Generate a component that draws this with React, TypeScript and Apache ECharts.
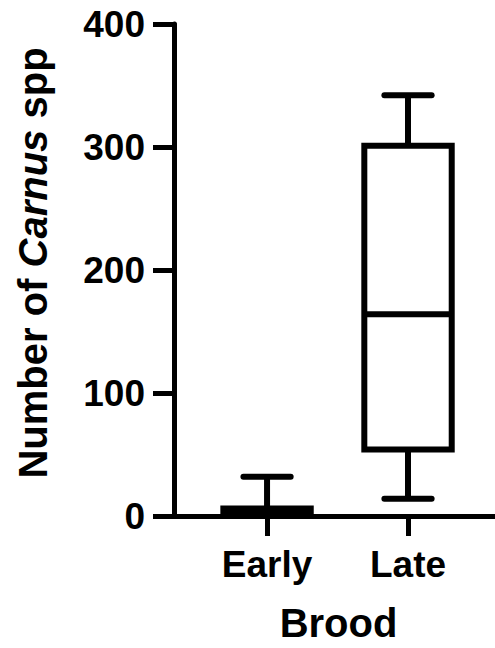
import React, { useEffect, useRef } from "react";
import * as echarts from "echarts";

const categories = ["Early", "Late"];
const mins = [0, 14];
const q1s = [0, 54];
const medians = [2, 164];
const q3s = [6, 301];
const maxs = [32, 342];
const yTicks = [0, 100, 200, 300, 400];

const FONT = "'Liberation Sans', Arial, sans-serif";

export default function App() {
  const ref = useRef<HTMLDivElement>(null);
  useEffect(() => {
    if (!ref.current) return;
    const chart = echarts.init(ref.current, null, { renderer: "svg" });
    const data = categories.map((_, i) => [i + 1, mins[i], q1s[i], medians[i], q3s[i], maxs[i]]);
    const lw = 6;
    chart.setOption({
      animation: false,
      backgroundColor: "#fff",
      grid: { left: 174, top: 24, right: 0, bottom: 130, containLabel: false },
      xAxis: {
        type: "value",
        min: 0.34,
        max: 2.617,
        splitLine: { show: false },
        axisLine: { onZero: false, lineStyle: { color: "#000", width: 5, cap: "butt" } },
        axisTick: { show: true, customValues: [1, 2], length: 20, lineStyle: { color: "#000", width: 5 } },
        axisLabel: {
          customValues: [1, 2],
          formatter: (v: number) => categories[Math.round(v) - 1] ?? "",
          fontSize: 37,
          fontWeight: "bold",
          fontFamily: FONT,
          color: "#000",
          margin: 30,
        },
        name: "Brood",
        nameLocation: "middle",
        nameGap: 87,
        nameTextStyle: { fontSize: 40, fontWeight: "bold", fontFamily: FONT, color: "#000", padding: [0, 0, 0, 8] },
      },
      yAxis: {
        type: "value",
        min: yTicks[0],
        max: yTicks[yTicks.length - 1],
        interval: 100,
        splitLine: { show: false },
        axisLine: { onZero: false, lineStyle: { color: "#000", width: 5 } },
        axisTick: { show: true, length: 21, lineStyle: { color: "#000", width: 5 } },
        axisLabel: {
          fontSize: 37,
          fontWeight: "bold",
          fontFamily: FONT,
          color: "#000",
          margin: 29,
        },
        name: "{a|Number of }{b|Carnus}{a| spp}",
        nameLocation: "middle",
        nameRotate: 90,
        nameGap: 121,
        nameTextStyle: {
          padding: [0, 0, 0, 14],
          rich: {
            a: { fontSize: 40, fontWeight: "bold", fontFamily: FONT, color: "#000" },
            b: { fontSize: 40, fontWeight: "bold", fontStyle: "italic", fontFamily: FONT, color: "#000" },
          },
        },
      },
      series: [
        {
          type: "custom",
          data,
          encode: { x: 0, y: [1, 2, 3, 4, 5] },
          renderItem: (params: any, api: any) => {
            const x = api.value(0);
            const pMin = api.coord([x, api.value(1)]);
            const pQ1 = api.coord([x, api.value(2)]);
            const pMed = api.coord([x, api.value(3)]);
            const pQ3 = api.coord([x, api.value(4)]);
            const pMax = api.coord([x, api.value(5)]);
            const boxW = api.size([0.62, 0])[0];
            const capW = api.size([0.335, 0])[0];
            const cx = pMed[0];
            const stroke = { stroke: "#000", lineWidth: lw, fill: "none" };
            return {
              type: "group",
              children: [
                { type: "line", shape: { x1: cx, y1: pQ3[1], x2: cx, y2: pMax[1] }, style: { ...stroke, lineCap: "butt" } },
                { type: "line", shape: { x1: cx - capW / 2, y1: pMax[1], x2: cx + capW / 2, y2: pMax[1] }, style: { ...stroke, lineCap: "round" } },
                { type: "line", shape: { x1: cx, y1: pQ1[1], x2: cx, y2: pMin[1] }, style: { ...stroke, lineCap: "butt" } },
                { type: "line", shape: { x1: cx - capW / 2, y1: pMin[1], x2: cx + capW / 2, y2: pMin[1] }, style: { ...stroke, lineCap: "round" } },
                {
                  type: "rect",
                  shape: { x: cx - boxW / 2, y: pQ3[1], width: boxW, height: pQ1[1] - pQ3[1] },
                  style: { stroke: "#000", lineWidth: lw, fill: "#fff", lineJoin: "miter" },
                },
                { type: "line", shape: { x1: cx - boxW / 2, y1: pMed[1], x2: cx + boxW / 2, y2: pMed[1] }, style: { ...stroke, lineCap: "butt" } },
              ],
            };
          },
        },
      ],
    });
    return () => chart.dispose();
  }, []);
  return <div ref={ref} style={{ position: "fixed", left: 0, top: 0, width: 495, height: 648 }} />;
}
